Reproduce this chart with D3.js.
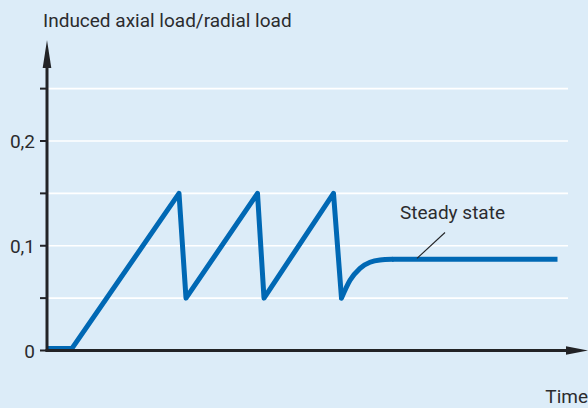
<!DOCTYPE html>
<html><head><meta charset="utf-8">
<script src="https://cdn.jsdelivr.net/npm/d3@7"></script>
<style>
html,body{margin:0;padding:0;background:#dcecf8;}
svg{display:block;}
text{font-family:Roboto,"Open Sans",sans-serif;fill:#2b2b2e;}
</style></head>
<body>
<svg id="c" width="588" height="408"></svg>
<script>
// Data (time in arbitrary units, value = induced axial load / radial load)
const times  = [0.2, 5.0, 26.4, 27.8, 42.1, 43.4, 57.3, 58.9, 60.6, 62.6, 64.6, 66.6, 69.0, 102.1];
const values = [0.002, 0.002, 0.15, 0.05, 0.15, 0.05, 0.15, 0.05, 0.067, 0.0785, 0.0842, 0.0864, 0.087, 0.087];
const recoveryStart = 7; // index of the last trough; smooth recovery follows
const yTicks = [0, 0.05, 0.1, 0.15, 0.2, 0.25];
const yTickLabels = ["0", "", "0,1", "", "0,2", ""];
const yTitle = "Induced axial load/radial load";
const xTitle = "Time";
const annotation = "Steady state";

const svg = d3.select("#c");
const x = d3.scaleLinear().domain([0, 108]).range([47, 587]);
const y = d3.scaleLinear().domain([0, 0.2]).range([350.5, 141]);

// gridlines
svg.append("g").selectAll("line").data(yTicks.filter(d => d > 0)).join("line")
  .attr("x1", x(0)).attr("x2", 568)
  .attr("y1", d => y(d)).attr("y2", d => y(d))
  .attr("stroke", "#ffffff").attr("stroke-width", 1.6);

// y axis ticks
svg.append("g").selectAll("line").data(yTicks).join("line")
  .attr("x1", 40).attr("x2", x(0))
  .attr("y1", d => y(d)).attr("y2", d => y(d))
  .attr("stroke", "#222326").attr("stroke-width", 2);

svg.append("g").selectAll("text").data(yTicks).join("text")
  .attr("x", 35).attr("y", d => y(d) + 7)
  .attr("text-anchor", "end").attr("font-size", 19)
  .text((d, i) => yTickLabels[i]);

// data line
const pts = times.map((t, i) => [t, values[i]]);
const lin = d3.line().x(d => x(d[0])).y(d => y(d[1]));
const smooth = d3.line().x(d => x(d[0])).y(d => y(d[1])).curve(d3.curveMonotoneX);
const lineStyle = sel => sel.attr("fill", "none").attr("stroke", "#0068b4")
  .attr("stroke-width", 5).attr("stroke-linejoin", "round").attr("stroke-linecap", "round");
svg.append("path").datum(pts.slice(0, recoveryStart + 1)).attr("d", lin).call(lineStyle).attr("stroke-linecap", "butt");
svg.append("path").datum(pts.slice(recoveryStart, pts.length - 1)).attr("d", smooth).call(lineStyle);
svg.append("path").datum(pts.slice(pts.length - 2)).attr("d", lin).call(lineStyle).attr("stroke-linecap", "butt");

// axes
svg.append("line").attr("x1", x(0)).attr("x2", x(0)).attr("y1", 351.5).attr("y2", 62)
  .attr("stroke", "#222326").attr("stroke-width", 3);
svg.append("path").attr("d", `M${x(0)},40 L${x(0)+4.3},68 L${x(0)-4.3},68 Z`).attr("fill", "#222326");
svg.append("line").attr("x1", x(0)-1.5).attr("x2", 570).attr("y1", y(0)).attr("y2", y(0))
  .attr("stroke", "#222326").attr("stroke-width", 3);
svg.append("path").attr("d", `M588,${y(0)} L566,${y(0)-4.3} L566,${y(0)+4.3} Z`).attr("fill", "#222326");

// titles
svg.append("text").attr("x", 43).attr("y", 27).attr("font-size", 19).text(yTitle);
svg.append("text").attr("x", 588).attr("y", 403).attr("text-anchor", "end").attr("font-size", 19).text(xTitle);

// annotation
svg.append("text").attr("x", 400).attr("y", 218.5).attr("font-size", 19).text(annotation);
svg.append("line").attr("x1", 445).attr("y1", 232.5).attr("x2", x(74)).attr("y2", y(values[values.length-1]) - 1)
  .attr("stroke", "#222326").attr("stroke-width", 1.1);
</script>
</body></html>
